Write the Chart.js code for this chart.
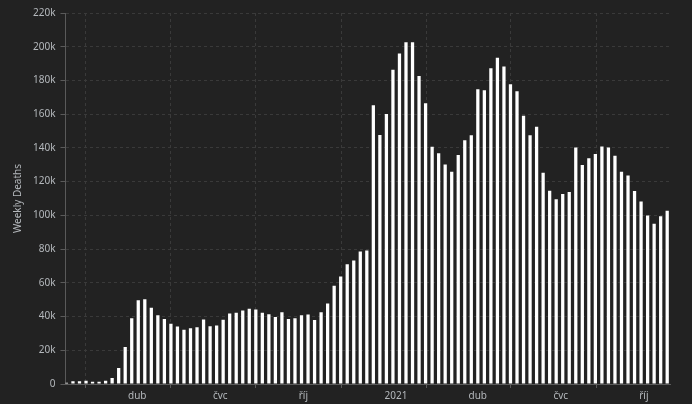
<!DOCTYPE html>
<html>
<head>
<meta charset="utf-8">
<script src="https://cdn.jsdelivr.net/npm/chart.js@4.4.1/dist/chart.umd.min.js"></script>
<style>
    html, body { margin: 0; padding: 0; background: #222222; }
    #wrap { width: 692px; height: 404px; }
</style>
</head>
<body>
<div id="wrap"><canvas id="chart"></canvas></div>
<script>
// week ending dates (Sundays)
var weeks = [
      '2020-01-26', '2020-02-02', '2020-02-09', '2020-02-16', '2020-02-23', '2020-03-01', '2020-03-08', '2020-03-15'
    , '2020-03-22', '2020-03-29', '2020-04-05', '2020-04-12', '2020-04-19', '2020-04-26', '2020-05-03', '2020-05-10'
    , '2020-05-17', '2020-05-24', '2020-05-31', '2020-06-07', '2020-06-14', '2020-06-21', '2020-06-28', '2020-07-05'
    , '2020-07-12', '2020-07-19', '2020-07-26', '2020-08-02', '2020-08-09', '2020-08-16', '2020-08-23', '2020-08-30'
    , '2020-09-06', '2020-09-13', '2020-09-20', '2020-09-27', '2020-10-04', '2020-10-11', '2020-10-18', '2020-10-25'
    , '2020-11-01', '2020-11-08', '2020-11-15', '2020-11-22', '2020-11-29', '2020-12-06', '2020-12-13', '2020-12-20'
    , '2020-12-27', '2021-01-03', '2021-01-10', '2021-01-17', '2021-01-24', '2021-01-31', '2021-02-07', '2021-02-14'
    , '2021-02-21', '2021-02-28', '2021-03-07', '2021-03-14', '2021-03-21', '2021-03-28', '2021-04-04', '2021-04-11'
    , '2021-04-18', '2021-04-25', '2021-05-02', '2021-05-09', '2021-05-16', '2021-05-23', '2021-05-30', '2021-06-06'
    , '2021-06-13', '2021-06-20', '2021-06-27', '2021-07-04', '2021-07-11', '2021-07-18', '2021-07-25', '2021-08-01'
    , '2021-08-08', '2021-08-15', '2021-08-22', '2021-08-29', '2021-09-05', '2021-09-12', '2021-09-19', '2021-09-26'
    , '2021-10-03', '2021-10-10', '2021-10-17', '2021-10-24', '2021-10-31'
];

var weeklyDeaths = [
      800, 1600, 1600, 2000, 1400, 1400, 2000, 3600
    , 9500, 22000, 39000, 49700, 50300, 45200, 40800, 38600
    , 35700, 34100, 32100, 33100, 33700, 38300, 34300, 34700
    , 38100, 41800, 42200, 43600, 44600, 44200, 42200, 41400
    , 39800, 42600, 38600, 39000, 40800, 41200, 38000, 42600
    , 47800, 58300, 63800, 71000, 73300, 78500, 79100, 165300
    , 147700, 160100, 186300, 196000, 202600, 202600, 182700, 166500
    , 140700, 136800, 130200, 125900, 135800, 144500, 147500, 174800
    , 174200, 187300, 193400, 188300, 177800, 173600, 159000, 147500
    , 152600, 125300, 114600, 109600, 112600, 113800, 140300, 129800
    , 133800, 136400, 140900, 140300, 135400, 125900, 123700, 114400
    , 108200, 99900, 95100, 99500, 102700
];

// x axis ticks (Czech month abbreviations)
var tickDates = ['2020-04-01', '2020-07-01', '2020-10-01', '2021-01-01', '2021-04-01', '2021-07-01', '2021-10-01'];
var tickLabels = ['dub', 'čvc', 'říj', '2021', 'dub', 'čvc', 'říj'];

var axisStart = '2020-01-25';
var axisEnd = '2021-11-03';

function dayNum(s) {
    return (Date.parse(s) - Date.parse('2020-01-01')) / 86400000;
}

var points = weeks.map(function (w, i) {
    return { x: dayNum(w), y: weeklyDeaths[i] };
});
var tickDays = tickDates.map(dayNum);

var gridColor = '#3a3a3a';
var axisColor = '#5a5a5a';
var textColor = '#b4b8bc';
var font = { family: "'Noto Sans', 'Open Sans', sans-serif", size: 10 };

var ctx = document.getElementById('chart').getContext('2d');
new Chart(ctx, {
    type: 'bar',
    data: {
        datasets: [{
            label: 'Weekly Deaths',
            data: points,
            backgroundColor: '#ffffff',
            borderWidth: 0,
            barPercentage: 0.5,
            categoryPercentage: 1
        }]
    },
    options: {
        responsive: true,
        maintainAspectRatio: false,
        animation: false,
        layout: { padding: { top: 13, right: 22, bottom: 0, left: 8 } },
        plugins: {
            legend: { display: false },
            tooltip: { enabled: false }
        },
        scales: {
            x: {
                type: 'linear',
                min: dayNum(axisStart),
                max: dayNum(axisEnd),
                offset: false,
                afterBuildTicks: function (scale) {
                    scale.ticks = tickDays.map(function (d) { return { value: d }; });
                },
                ticks: {
                    autoSkip: false,
                    maxRotation: 0,
                    align: 'start',
                    padding: 3,
                    color: textColor,
                    font: { family: font.family, size: 10, lineHeight: 1.0 },
                    callback: function (value, index) {
                        return tickLabels[index];
                    }
                },
                grid: {
                    color: gridColor,
                    tickColor: axisColor,
                    tickLength: 4,
                    tickBorderDash: []
                },
                border: { color: axisColor, dash: [3, 3] }
            },
            y: {
                min: 0,
                max: 220000,
                ticks: {
                    stepSize: 20000,
                    padding: 5,
                    color: textColor,
                    font: font,
                    callback: function (value) {
                        return value === 0 ? '0' : (value / 1000) + 'k';
                    }
                },
                grid: {
                    color: gridColor,
                    tickColor: axisColor,
                    tickLength: 5,
                    tickBorderDash: []
                },
                border: { color: axisColor, dash: [3, 3] },
                title: {
                    display: true,
                    text: 'Weekly Deaths',
                    color: textColor,
                    font: font,
                    padding: { top: 4, bottom: 4 }
                }
            }
        }
    }
});
</script>
</body>
</html>
